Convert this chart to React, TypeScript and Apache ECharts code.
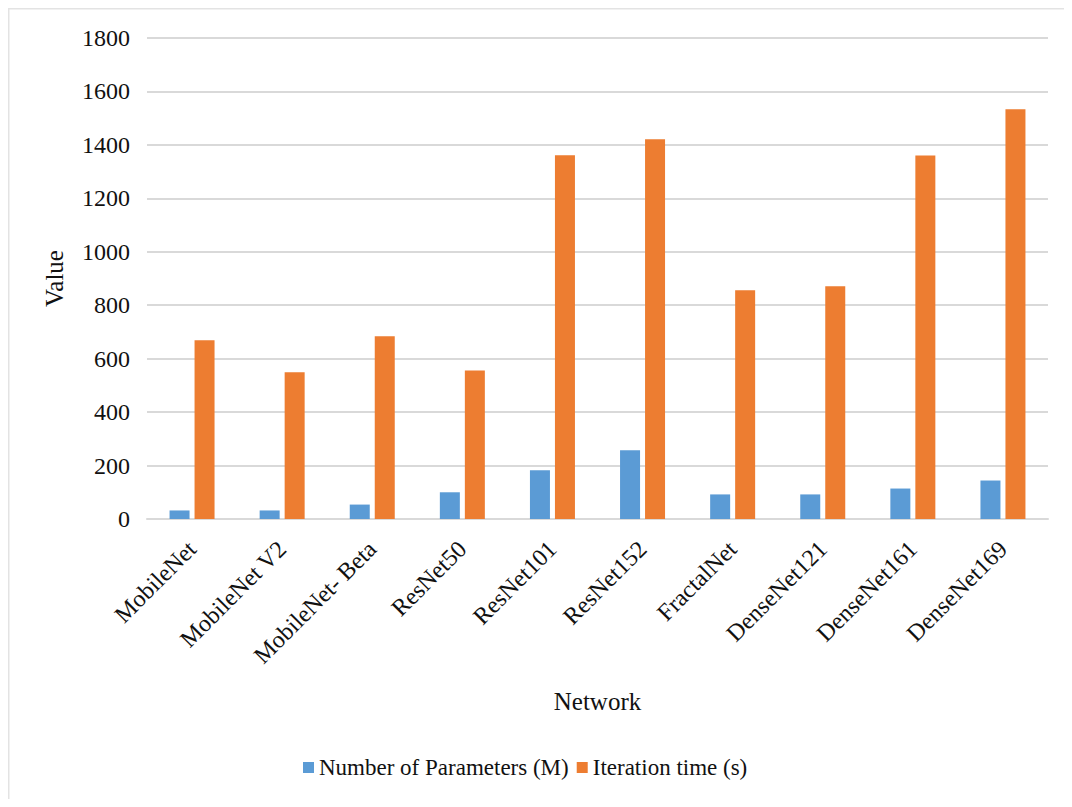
import React, { useEffect, useRef } from "react";
import * as echarts from "echarts";

const categories = [
  "MobileNet",
  "MobileNet V2",
  "MobileNet- Beta",
  "ResNet50",
  "ResNet101",
  "ResNet152",
  "FractalNet",
  "DenseNet121",
  "DenseNet161",
  "DenseNet169",
];
const paramsM = [32, 32, 54, 100, 182, 257, 92, 92, 114, 144];
const iterTime = [669, 549, 684, 556, 1361, 1421, 856, 871, 1360, 1533];
const yTicks = { min: 0, max: 1800, interval: 200 };

const FONT = "Liberation Serif, Times New Roman, serif";

export default function App() {
  const ref = useRef<HTMLDivElement>(null);
  useEffect(() => {
    if (!ref.current) return;
    const chart = echarts.init(ref.current, null, { renderer: "svg" });
    chart.setOption({
      animation: false,
      backgroundColor: "#ffffff",
      textStyle: { fontFamily: FONT },
      graphic: [
        { type: "line", shape: { x1: 0, y1: 0.5, x2: 1056, y2: 0.5 }, style: { stroke: "#e3e3e3", lineWidth: 2 } },
        { type: "line", shape: { x1: 0.5, y1: 0, x2: 0.5, y2: 791 }, style: { stroke: "#e3e3e3", lineWidth: 2 } },
      ],
      grid: { left: 139, right: 16, top: 30, bottom: 280, containLabel: false },
      legend: {
        bottom: 15,
        left: 290,
        itemWidth: 11,
        itemHeight: 11,
        itemGap: 8,
        icon: "rect",
        textStyle: { fontFamily: FONT, fontSize: 23, color: "#111" },
        data: ["Number of Parameters (M)", "Iteration time (s)"],
      },
      xAxis: {
        type: "category",
        data: categories,
        name: "Network",
        nameLocation: "middle",
        nameGap: 170,
        nameTextStyle: { fontFamily: FONT, fontSize: 25, color: "#111" },
        axisLine: { show: true, lineStyle: { color: "#d9d9d9", width: 2 } },
        axisTick: { show: false },
        axisLabel: { rotate: 45, margin: 26, fontFamily: FONT, fontSize: 24, color: "#111", interval: 0 },
      },
      yAxis: {
        type: "value",
        min: yTicks.min,
        max: yTicks.max,
        interval: yTicks.interval,
        name: "Value",
        nameLocation: "middle",
        nameGap: 80,
        nameRotate: 90,
        nameTextStyle: { fontFamily: FONT, fontSize: 25, color: "#111" },
        axisLine: { show: false },
        axisTick: { show: false },
        axisLabel: {
          margin: 17,
          fontFamily: FONT,
          fontSize: 24,
          color: "#111",
          formatter: (v: number) => String(v),
        },
        splitLine: { lineStyle: { color: "#d9d9d9", width: 2 } },
      },
      series: [
        {
          name: "Number of Parameters (M)",
          type: "bar",
          data: paramsM,
          barWidth: 20,
          barGap: "25%",
          itemStyle: { color: "#5B9BD5" },
        },
        {
          name: "Iteration time (s)",
          type: "bar",
          data: iterTime,
          barWidth: 20,
          barGap: "25%",
          itemStyle: { color: "#ED7D31" },
        },
      ],
    });
    return () => chart.dispose();
  }, []);
  return <div ref={ref} style={{ width: 1056, height: 791 }} />;
}
